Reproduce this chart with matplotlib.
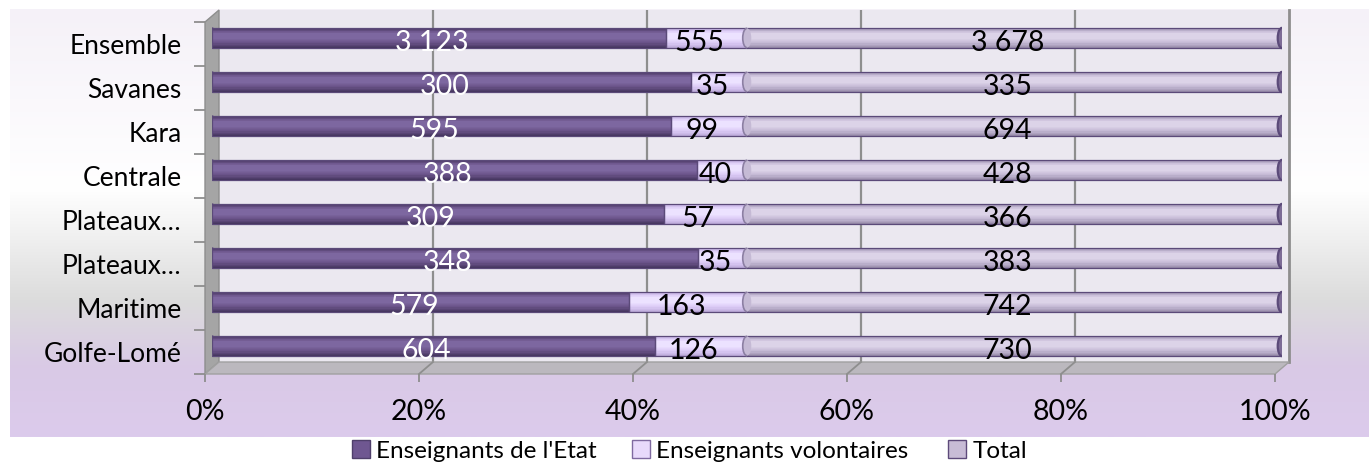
import numpy as np
import matplotlib.pyplot as plt
from matplotlib.patches import Polygon, Ellipse, Arc, Patch
from matplotlib.colors import LinearSegmentedColormap, to_rgb

plt.rcParams['font.family'] = ['Lato', 'DejaVu Sans']

# données (de bas en haut)
regions = ['Golfe-Lomé', 'Maritime', 'Plateaux…', 'Plateaux…', 'Centrale', 'Kara', 'Savanes', 'Ensemble']
etat = [604, 579, 348, 309, 388, 595, 300, 3123]
volontaires = [126, 163, 35, 57, 40, 99, 35, 555]
total = [730, 742, 383, 366, 428, 694, 335, 3678]
series_names = ["Enseignants de l'Etat", "Enseignants volontaires", "Total"]
ticks_pct = [0, 20, 40, 60, 80, 100]

W, H = 1369, 470


def px_rect(x0, y_top, w, h):
    return [x0 / W, (H - y_top - h) / H, w / W, h / H]


def fmt(v):
    return f"{v:,}".replace(",", " ")


fig = plt.figure(figsize=(W / 100, H / 100), dpi=100)

# fond dégradé
bg = fig.add_axes(px_rect(10, 9, 1359, 428), zorder=-10)
cmap = LinearSegmentedColormap.from_list('bg', [
    (0.0, '#f5f1f8'), (0.42, '#ffffff'), (0.68, '#dcdcdc'),
    (0.84, '#d9c9e6'), (1.0, '#dccbec')])
bg.imshow(np.linspace(0, 1, 256).reshape(-1, 1), aspect='auto', cmap=cmap, extent=[0, 1, 0, 1])
bg.axis('off')

n = len(regions)
y = np.arange(n)
ylim = (-0.5, n - 0.5)

# mur du fond
axw = fig.add_axes(px_rect(219, 10, 1070, 352), zorder=0)
axw.set_facecolor('#ebe8f0')
axw.set_xlim(0, 1)
axw.set_ylim(*ylim)
axw.set_xticks([t / 100 for t in ticks_pct[1:-1]])
axw.set_yticks([])
axw.grid(axis='x', color='#8e8e8e', lw=1.6)
axw.tick_params(length=0, labelbottom=False)
for s in ['top', 'left', 'bottom']:
    axw.spines[s].set_visible(False)
axw.spines['right'].set_color('#8e8e8e')
axw.spines['right'].set_linewidth(2)

# axe avant
ax = fig.add_axes(px_rect(205, 22, 1070, 352), zorder=1)
ax.set_facecolor('none')
ax.set_xlim(0, 1)
ax.set_ylim(*ylim)
for s in ax.spines.values():
    s.set_visible(False)
ax.set_xticks([t / 100 for t in ticks_pct])
ax.set_xticklabels([f"{t}%" for t in ticks_pct], fontsize=20.5)
ax.set_yticks(np.arange(-0.5, n, 1))
ax.set_yticklabels([])
ax.set_yticks(y, minor=True)
ax.set_yticklabels(regions, minor=True, fontsize=19)
ax.tick_params(axis='x', colors='#8e8e8e', labelcolor='black', length=6, width=1.3, pad=12)
ax.tick_params(axis='y', which='major', colors='#8e8e8e', length=8, width=1.3)
ax.tick_params(axis='y', which='minor', length=0, pad=17)

dx = 14 / 1070
dy = 12 / 44
side = Polygon([(0, ylim[0]), (0, ylim[1]), (dx, ylim[1] + dy), (dx, ylim[0] + dy)],
               closed=True, fc='#a5a5a5', ec='#8e8e8e', lw=1, clip_on=False)
floor = Polygon([(0, ylim[0]), (1, ylim[0]), (1 + dx, ylim[0] + dy), (dx, ylim[0] + dy)],
                closed=True, fc='#bbb8be', ec='#a0a0a0', lw=1, clip_on=False)
ax.add_patch(side)
ax.add_patch(floor)
for t in ticks_pct[1:-1]:
    ax.plot([t / 100, t / 100 + dx], [ylim[0], ylim[0] + dy], color='#8e8e8e', lw=1.3, clip_on=False)

# barres cylindriques
axb = fig.add_axes(px_rect(212, 16, 1070, 352), zorder=2)
axb.set_facecolor('none')
axb.set_xlim(0, 1)
axb.set_ylim(*ylim)
axb.axis('off')

vals = np.array([etat, volontaires, total], dtype=float)
shares = vals / vals.sum(axis=0)
lefts = np.vstack([np.zeros(n), np.cumsum(shares, axis=0)[:-1]])

shades = [
    ('#45355e', '#6a5389', '#7d67a0'),
    ('#bca9d9', '#dccbf6', '#ece2ff'),
    ('#968aa8', '#c5bad5', '#dcd3e8'),
]
edge = '#5b4a79'
h = 0.46


def mix(a, b, t):
    a, b = np.array(to_rgb(a)), np.array(to_rgb(b))
    return tuple(a + (b - a) * t)


# bout gauche arrondi
for i in range(n):
    axb.add_patch(Ellipse((0, y[i]), 0.008, h, fc=shades[0][1], ec=edge, lw=0.8, zorder=1))

layers = 9
for s in range(3):
    dark, mid, light = shades[s]
    for k in range(layers):
        t = k / (layers - 1)
        col = mix(dark, mid, t * 2) if t < 0.5 else mix(mid, light, (t - 0.5) * 2)
        hh = h * (1 - 0.75 * t)
        axb.barh(y + 0.1 * h * t, shares[s], left=lefts[s], height=hh, color=col, lw=0, zorder=2)
    axb.barh(y, shares[s], left=lefts[s], height=h, fill=False, edgecolor=edge, lw=0.9, zorder=3)

# jonction volontaires / total et bout droit
for i in range(n):
    xb = lefts[2][i]
    axb.add_patch(Ellipse((xb, y[i]), 0.008, h * 0.96, fc=shades[2][1], ec='none', zorder=3))
    axb.add_patch(Arc((xb, y[i]), 0.008, h * 0.96, theta1=90, theta2=270, color='#8c7fa3', lw=1.2, zorder=4))
    axb.add_patch(Ellipse((1.0, y[i]), 0.008, h, fc='#7d6c96', ec=edge, lw=1.6, zorder=4))

# étiquettes
for s, data in enumerate([etat, volontaires, total]):
    for i in range(n):
        cx = lefts[s][i] + shares[s][i] / 2
        axb.text(cx, y[i] + 0.03, fmt(data[i]), transform=ax.transData, ha='center', va='center',
                 fontsize=20.5, color='white' if s == 0 else 'black', zorder=6)

# légende
handles = [Patch(fc='#6f5791', ec='#4f3f6b'), Patch(fc='#e8dafb', ec='#7f6aa0'), Patch(fc='#c8bcd6', ec='#5d4a7a')]
legend_x = [352, 632, 948]
for hd, name, lx in zip(handles, series_names, legend_x):
    fig.legend([hd], [name], loc='center left', bbox_to_anchor=(lx / W, 1 - 451 / H),
               frameon=False, fontsize=17.5, borderpad=0, borderaxespad=0,
               handlelength=0.75, handleheight=0.75, handletextpad=0.25)

fig.savefig('out.png', dpi=100)
